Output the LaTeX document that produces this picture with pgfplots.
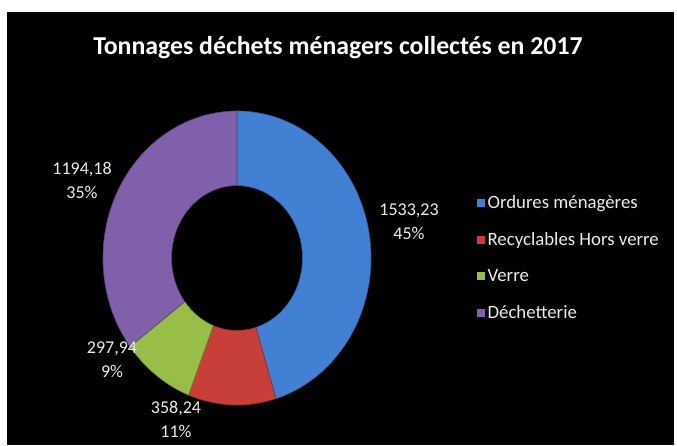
\documentclass[border=0pt]{standalone}
\usepackage{pgfplots}
\pgfplotsset{compat=1.18}
\usepackage{pgfplotstable}
\usetikzlibrary{calc}
\usepackage{fontspec}
\setmainfont{Carlito}

\definecolor{omBlue}{RGB}{66,128,212}
\definecolor{recRed}{RGB}{200,62,56}
\definecolor{verGreen}{RGB}{152,190,72}
\definecolor{decPurple}{RGB}{128,96,170}
\definecolor{lbl}{RGB}{235,235,235}

% tonnages 2017
\pgfplotstableread{
value
1533.23
358.24
297.94
1194.18
}\wastedata

\begin{document}
\begin{tikzpicture}
% total and slice angles (clockwise from 12 o'clock)
\xdef\total{0}
\foreach \i in {0,...,3}{
  \pgfplotstablegetelem{\i}{value}\of\wastedata
  \pgfmathsetmacro\t{\total+\pgfplotsretval}\xdef\total{\t}}
\xdef\cum{0}
\foreach \i in {0,...,3}{
  \pgfplotstablegetelem{\i}{value}\of\wastedata
  \pgfmathsetmacro\a{90-\cum/\total*360}
  \pgfmathsetmacro\c{\cum+\pgfplotsretval}
  \pgfmathsetmacro\b{90-\c/\total*360}
  \expandafter\xdef\csname angA\i\endcsname{\a}
  \expandafter\xdef\csname angB\i\endcsname{\b}
  \xdef\cum{\c}}
\begin{axis}[width=677pt,height=445pt,scale only axis,
  xmin=0,xmax=677,ymin=0,ymax=445,y dir=reverse,
  hide axis,clip=false,legend cell align=left,
  legend style={draw=none,fill=none,text=lbl,font=\fontsize{18.8}{20}\selectfont,
    at={(axis cs:476,193)},anchor=north west,row sep=18.5pt,
    inner sep=0pt,/tikz/every even column/.append style={column sep=3pt}},
  legend image code/.code={\fill[#1] (0.5pt,-4.5pt) rectangle (9.5pt,4.5pt);}]
\fill[white] (axis cs:0,0) rectangle (axis cs:677,445);
\fill[black] (axis cs:7,12) rectangle (axis cs:674,445);
\node[text=white,font=\bfseries\fontsize{25.8}{28}\selectfont] at (axis cs:338,48)
  {Tonnages déchets ménagers collectés en 2017};
% donut slices
\pgfplotsinvokeforeach{0,...,3}{
  \fill[fill=\ifcase#1 omBlue\or recRed\or verGreen\or decPurple\fi,
        draw=\ifcase#1 omBlue\or recRed\or verGreen\or decPurple\fi!70!black,line width=0.6pt]
    (axis cs:237,258) ++(\csname angA#1\endcsname:134pt and 147pt)
    arc[start angle=\csname angA#1\endcsname,end angle=\csname angB#1\endcsname,x radius=134pt,y radius=147pt]
    -- ($(axis cs:237,258)+(\csname angB#1\endcsname:65.5pt and 72.5pt)$)
    arc[start angle=\csname angB#1\endcsname,end angle=\csname angA#1\endcsname,x radius=65.5pt,y radius=72.5pt] -- cycle;
}
\addlegendimage{fill=omBlue}\addlegendentry{Ordures ménagères}
\addlegendimage{fill=recRed}\addlegendentry{Recyclables Hors verre}
\addlegendimage{fill=verGreen}\addlegendentry{Verre}
\addlegendimage{fill=decPurple}\addlegendentry{Déchetterie}
% data labels
\begin{scope}[every node/.style={text=lbl,align=center,font=\fontsize{18}{24}\selectfont}]
\node at (axis cs:409,222) {1533,23\\45\%};
\node at (axis cs:176,419) {358,24\\11\%};
\node at (axis cs:112,360) {297,94\\9\%};
\node at (axis cs:82,180) {1194,18\\35\%};
\end{scope}
\end{axis}
\end{tikzpicture}
\end{document}
